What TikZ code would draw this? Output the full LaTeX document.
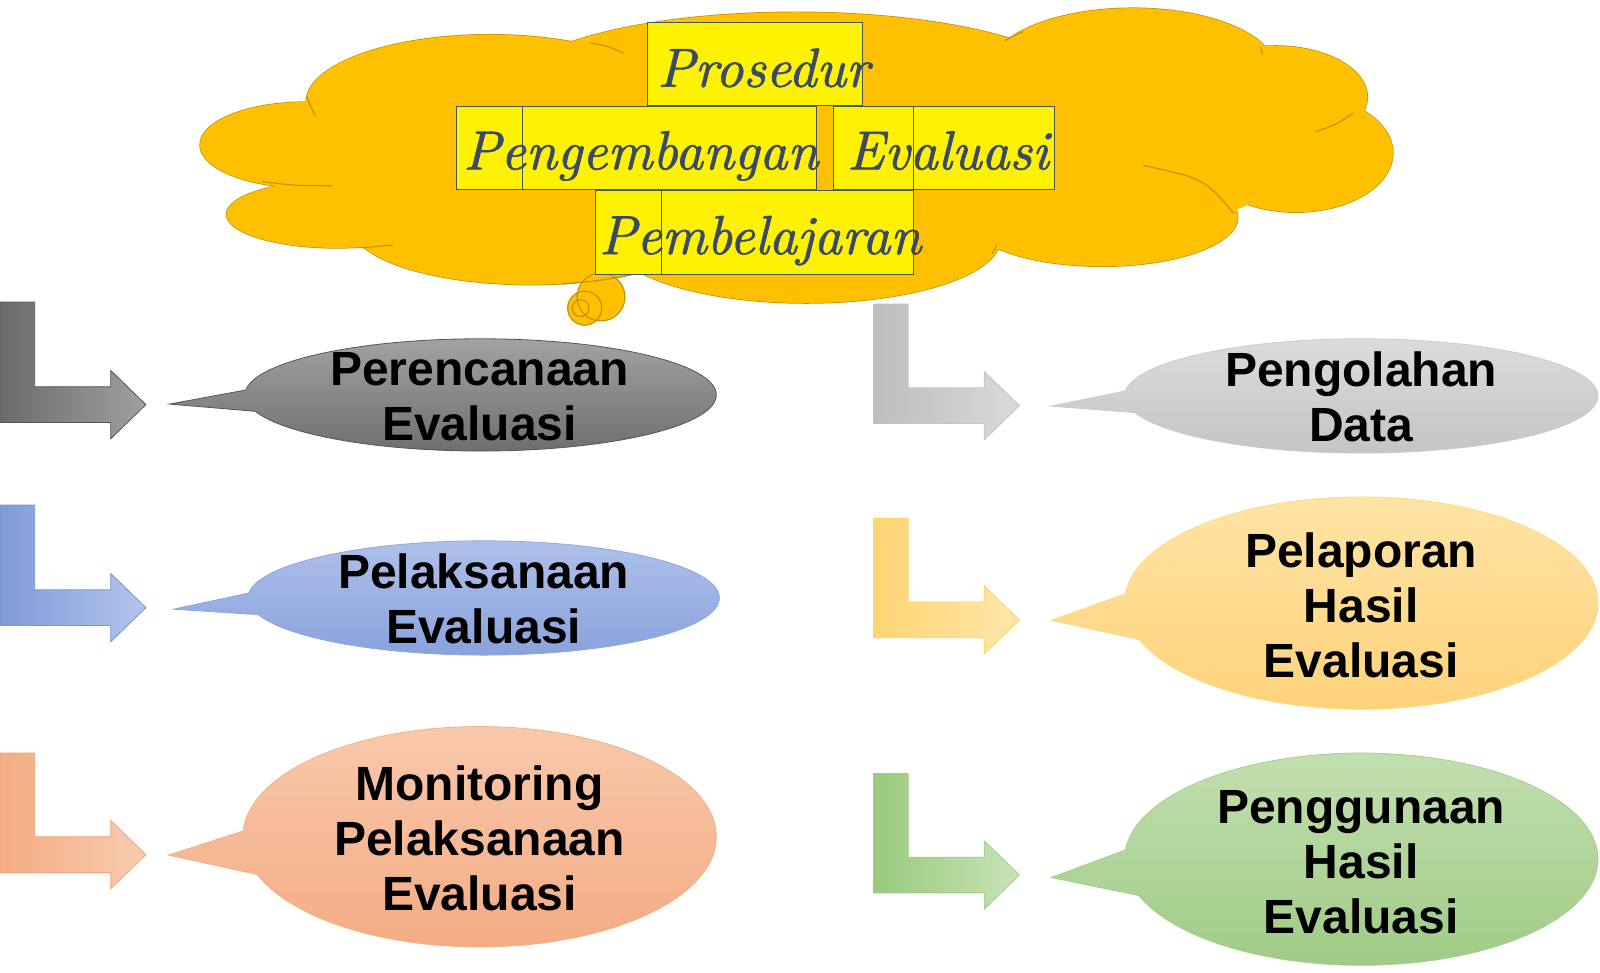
\documentclass[tikz,border=0pt]{standalone}
\usepackage{fontspec}
\setsansfont{Liberation Sans}
\newfontfamily\ttlfont{lmroman10-italic.otf}[FakeBold=1.2]
\definecolor{cloudfill}{HTML}{FFC000}
\definecolor{cloudline}{HTML}{BF9000}
\definecolor{titleblue}{HTML}{3B4A63}
\definecolor{boxline}{HTML}{44546A}
% arrows
\definecolor{aAl}{HTML}{6B6B6B}\definecolor{aAr}{HTML}{A0A0A0}\definecolor{aAd}{HTML}{555555}
\definecolor{aBl}{HTML}{7F9BD9}\definecolor{aBr}{HTML}{B3C5EB}\definecolor{aBd}{HTML}{7895D6}
\definecolor{aCl}{HTML}{F4AC83}\definecolor{aCr}{HTML}{F8CCB0}\definecolor{aCd}{HTML}{F3A578}
\definecolor{aDl}{HTML}{BDBDBD}\definecolor{aDr}{HTML}{DADADA}\definecolor{aDd}{HTML}{C4C4C4}
\definecolor{aEl}{HTML}{FFD573}\definecolor{aEr}{HTML}{FFE6AC}\definecolor{aEd}{HTML}{FFD466}
\definecolor{aFl}{HTML}{99CA7D}\definecolor{aFr}{HTML}{C8E3B8}\definecolor{aFd}{HTML}{9ECC83}
% bubbles
\definecolor{bAt}{HTML}{A3A3A3}\definecolor{bAb}{HTML}{6E6E6E}\definecolor{bAd}{HTML}{555555}
\definecolor{bBt}{HTML}{B0C0EA}\definecolor{bBb}{HTML}{88A2DD}\definecolor{bBd}{HTML}{8EA7DD}
\definecolor{bCt}{HTML}{F8C9AC}\definecolor{bCb}{HTML}{F4AB83}\definecolor{bCd}{HTML}{F4B183}
\definecolor{bDt}{HTML}{DCDCDC}\definecolor{bDb}{HTML}{C4C4C4}\definecolor{bDd}{HTML}{CCCCCC}
\definecolor{bEt}{HTML}{FFE4A6}\definecolor{bEb}{HTML}{FFD27A}\definecolor{bEd}{HTML}{FFD978}
\definecolor{bFt}{HTML}{C3DFB0}\definecolor{bFb}{HTML}{9ECB85}\definecolor{bFd}{HTML}{A8D08D}
\begin{document}
\begin{tikzpicture}[x=1pt,y=1pt,scale=1.0204,
  lbl/.style={font=\sffamily\bfseries\fontsize{48}{55}\selectfont, align=center, text=black, inner sep=0pt},
  ttl/.style={font=\ttlfont\fontsize{55}{60}\selectfont, text=titleblue, anchor=base, inner sep=0pt},
  ybox/.style={fill=yellow, draw=boxline, line width=1pt},
  cloudedge/.style={draw=cloudline, line width=1.4pt},
  cloudarc/.style={draw=cloudline, line width=1.1pt}
]
\useasboundingbox (0,0) rectangle (1568,-952.6);
\fill[white] (0,0) rectangle (1568,-952.6);

% ---- cloud ----
\def\lobes{300/142/104/42, 330/210/108/33, 480/100/180/66, 780/88/280/76,
  1110/68/140/60, 1250/95/90/50, 1270/150/95/58, 1080/213/133/48, 790/235/190/62, 520/222/175/57}
\foreach \cx/\cy/\rx/\ry in \lobes
  \draw[cloudedge] (\cx,-\cy) ellipse[x radius=\rx pt, y radius=\ry pt];
\foreach \cx/\cy/\rx/\ry in \lobes
  \fill[cloudfill] (\cx,-\cy) ellipse[x radius=\rx pt, y radius=\ry pt];
\fill[cloudfill] (780,-150) ellipse[x radius=480pt, y radius=85pt];
\fill[cloudfill] (1150,-170) ellipse[x radius=100pt, y radius=45pt];
\draw[cloudarc] (301,-95) .. controls (304,-104) .. (309,-113);
\draw[cloudarc] (257,-178) .. controls (290,-182) .. (325,-182);
\draw[cloudarc] (355,-243) .. controls (370,-242) .. (385,-240);
\draw[cloudarc] (578,-42) .. controls (595,-45) .. (611,-52);
\draw[cloudarc] (985,-40) .. controls (993,-35) .. (1003,-31);
\draw[cloudarc] (1235,-46) .. controls (1236,-48) .. (1237,-53);
\draw[cloudarc] (1289,-129) .. controls (1310,-122) .. (1326,-111);
\draw[cloudarc] (1120,-162) .. controls (1180,-175) .. (1209,-209);
\draw[cloudarc] (977,-240) .. controls (975,-244) .. (972,-249);
% thought bubble
\fill[cloudfill] (589,-291) circle[radius=23.5pt];
\fill[cloudfill] (573,-302) circle[radius=16.7pt];
\draw[cloudarc] (589,-291) circle[radius=23.5pt];
\draw[cloudarc] (573,-302) circle[radius=16.7pt];
\draw[cloudarc] (569,-302) circle[radius=8.3pt];
\draw[cloudarc] (520,-222) ++(-80:175pt and 57pt) arc[start angle=-80, end angle=-50, x radius=175pt, y radius=57pt];

% ---- title boxes ----
\draw[ybox] (635,-22) rectangle (845,-103);
\draw[ybox] (447,-104) rectangle (512,-186);
\draw[ybox] (512,-104) rectangle (800,-186);
\draw[ybox] (817,-104) rectangle (895,-186);
\draw[ybox] (895,-104) rectangle (1033,-186);
\draw[ybox] (584,-187) rectangle (648,-269);
\draw[ybox] (648,-187) rectangle (895,-269);
\node[ttl] (w1) at (748,-85) {Prosedur};
\node[ttl] (w2) at (628,-166) {Pengembangan};
\node[ttl] (w3) at (929,-166) {Evaluasi};
\node[ttl] (w4) at (745,-249) {Pembelajaran};

% ---- bent arrows ----
\newcommand\bentarr[6]{%
  \path[draw=#6, line width=0.8pt, left color=#4, right color=#5]
    (#1,-#2) -- ({#1+34},-#2) -- ({#1+34},-#3) -- ({#1+108.5},-#3) -- ({#1+108.5},{-(#3-16)})
    -- ({#1+143},{-(#3+17.5)}) -- ({#1+108.5},{-(#3+51)}) -- ({#1+108.5},{-(#3+35)})
    -- (#1,{-(#3+35)}) -- cycle;}
\bentarr{0}{296}{379}{aAl}{aAr}{aAd}
\bentarr{0}{495}{578}{aBl}{aBr}{aBd}
\bentarr{0}{738}{820}{aCl}{aCr}{aCd}
\bentarr{856}{298}{380}{aDl}{aDr}{aDd}
\bentarr{856}{508}{590}{aEl}{aEr}{aEd}
\bentarr{856}{758}{840}{aFl}{aFr}{aFd}

% ---- speech bubbles ----
\path[draw=bAd, line width=0.8pt, top color=bAt, bottom color=bAb]
  (471,-387) ++(175:231pt and 55pt)
  arc[start angle=175, end angle=-163, x radius=231pt, y radius=55pt] -- (166,-396) -- cycle;
\path[draw=bBd, line width=0.8pt, top color=bBt, bottom color=bBb]
  (474,-586) ++(175:231pt and 56pt)
  arc[start angle=175, end angle=-163, x radius=231pt, y radius=56pt] -- (170,-597) -- cycle;
\path[draw=bCd, line width=0.8pt, top color=bCt, bottom color=bCb]
  (470,-820) ++(177:232pt and 108pt)
  arc[start angle=177, end angle=-160, x radius=232pt, y radius=108pt] -- (165,-838) -- cycle;
\path[draw=bDd, line width=0.8pt, top color=bDt, bottom color=bDb]
  (1334,-388) ++(175:232pt and 56pt)
  arc[start angle=175, end angle=-163, x radius=232pt, y radius=56pt] -- (1030,-398) -- cycle;
\path[draw=bEd, line width=0.8pt, top color=bEt, bottom color=bEb]
  (1334,-591) ++(175:232pt and 104pt)
  arc[start angle=175, end angle=-160, x radius=232pt, y radius=104pt] -- (1030,-608) -- cycle;
\path[draw=bFd, line width=0.8pt, top color=bFt, bottom color=bFb]
  (1334,-842) ++(175:232pt and 104pt)
  arc[start angle=175, end angle=-160, x radius=232pt, y radius=104pt] -- (1030,-860) -- cycle;

% ---- labels ----
\node[lbl] (t1) at (470,-389) {Perencanaan\\Evaluasi};
\node[lbl] (t2) at (474,-587) {Pelaksanaan\\Evaluasi};
\node[lbl] (t3) at (470,-822) {Monitoring\\Pelaksanaan\\Evaluasi};
\node[lbl] (t4) at (1334,-389) {Pengolahan\\Data};
\node[lbl] (t5) at (1334,-593) {Pelaporan\\Hasil\\Evaluasi};
\node[lbl] (t6) at (1334,-845) {Penggunaan\\Hasil\\Evaluasi};
\end{tikzpicture}
\end{document}
